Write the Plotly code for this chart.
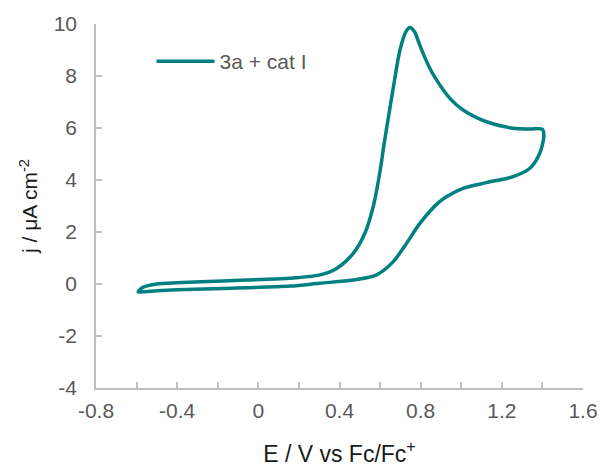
import plotly.graph_objects as go

# Cyclic voltammogram, closed loop
E_vals = [-0.592, -0.567, -0.50, -0.40, -0.173, 0.0, 0.156, 0.303, 0.386, 0.468, 0.525,
          0.566, 0.599, 0.619, 0.645, 0.665, 0.698, 0.727, 0.747, 0.770, 0.790, 0.812,
          0.845, 0.878, 0.944, 1.009, 1.124, 1.256, 1.338, 1.400, 1.407, 1.387, 1.338,
          1.256, 1.124, 1.009, 0.927, 0.886, 0.796, 0.730, 0.665, 0.583, 0.468, 0.303,
          0.156, -0.173, -0.40, -0.50, -0.570, -0.592]
j_vals = [-0.30, -0.12, 0.0, 0.05, 0.12, 0.17, 0.22, 0.35, 0.60, 1.18, 1.95,
          2.97, 4.30, 5.35, 6.60, 7.55, 9.00, 9.70, 9.87, 9.70, 9.30, 8.87,
          8.30, 7.85, 7.14, 6.69, 6.24, 5.99, 5.96, 5.95, 5.67, 5.03, 4.45,
          4.13, 3.90, 3.68, 3.36, 3.12, 2.33, 1.56, 0.86, 0.35, 0.15, 0.03,
          -0.08, -0.17, -0.22, -0.26, -0.30, -0.30]

series_name = "3a + cat I"
x_ticks = [-0.8, -0.4, 0, 0.4, 0.8, 1.2, 1.6]
x_tick_labels = ["-0.8", "-0.4", "0", "0.4", "0.8", "1.2", "1.6"]
y_ticks = [-4, -2, 0, 2, 4, 6, 8, 10]
y_tick_labels = ["-4", "-2", "0", "2", "4", "6", "8", "10"]

fig = go.Figure()
fig.add_trace(go.Scatter(
    x=E_vals, y=j_vals, mode="lines", name=series_name,
    line=dict(color="#008080", width=3.5, shape="spline", smoothing=0.8),
))

axis_color = "#BFBFBF"
font_family = "Liberation Sans, Arial, sans-serif"
tick_font = dict(family=font_family, size=21, color="#595959")

fig.update_layout(
    width=606, height=472,
    margin=dict(l=96, r=23, t=24, b=84, autoexpand=False),
    paper_bgcolor="white", plot_bgcolor="white",
    font=dict(family=font_family, size=21, color="#595959"),
    showlegend=True,
    legend=dict(x=0.114, y=0.953, xanchor="left", yanchor="top",
                bgcolor="rgba(0,0,0,0)", font=dict(size=21, color="#595959"),
                itemwidth=58),
    xaxis=dict(
        range=[-0.8, 1.6], tickvals=x_ticks, ticktext=x_tick_labels, automargin=False,
        showgrid=False, zeroline=False, showline=True, linecolor=axis_color, linewidth=1.5,
        ticks="inside", ticklen=6, tickcolor=axis_color, tickwidth=1.5,
        minor=dict(dtick=0.2, ticks="inside", ticklen=6, tickcolor=axis_color, tickwidth=1.5, showgrid=False),
        tickfont=tick_font, ticklabelstandoff=3,
        title=dict(text="E / V vs Fc/Fc<sup>+</sup>", font=dict(size=23, color="#1a1a1a"), standoff=25),
    ),
    yaxis=dict(
        range=[-4, 10], tickvals=y_ticks, ticktext=y_tick_labels, automargin=False,
        showgrid=False, zeroline=False, showline=True, linecolor=axis_color, linewidth=1.5,
        ticks="inside", ticklen=6, tickcolor=axis_color, tickwidth=1.5,
        tickfont=tick_font, ticklabelstandoff=13,
        title=dict(text="j / μA cm<sup>-2</sup>", font=dict(size=21, color="#1a1a1a"), standoff=10),
    ),
)

fig.write_html("out.html", config={"displayModeBar": False},
               post_script="document.body.style.margin='0';")
